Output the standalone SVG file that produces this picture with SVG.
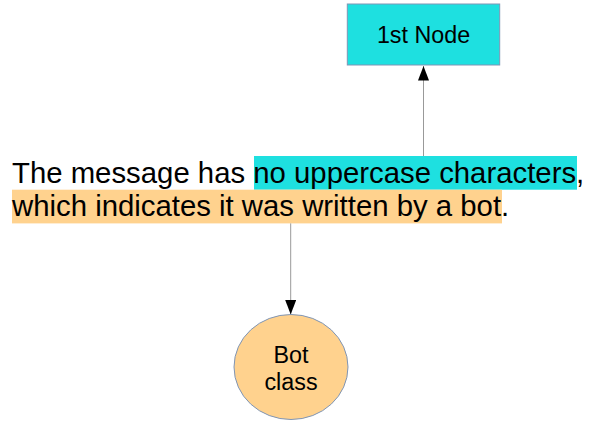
<svg xmlns="http://www.w3.org/2000/svg" width="597" height="421" viewBox="0 0 597 421">
<style>
.lbl{font-family:"Liberation Sans",Arial,sans-serif;font-size:23.3px;fill:#000;text-anchor:middle}
.msg{font-family:"Liberation Sans",Arial,sans-serif;font-size:29.33px;fill:#000}
.edge{stroke:#999;stroke-width:1;fill:none}
.node{stroke:#7f95b5;stroke-width:1}
</style>
<defs>
<marker id="ah" markerWidth="14.5" markerHeight="11" refX="14.5" refY="5.5" orient="auto" markerUnits="userSpaceOnUse">
<path d="M0,0 L14.5,5.5 L0,11 Z" fill="#000"/>
</marker>
</defs>
<rect width="597" height="421" fill="#fff"/>
<g id="message">
<rect x="254" y="156" width="323" height="33.7" fill="#1ee0e0"/>
<rect x="12" y="189.7" width="490" height="33.7" fill="#ffd28e"/>
<text class="msg" x="12" y="182.5">The message has no uppercase characters,</text>
<text class="msg" x="12" y="216.2">which indicates it was written by a bot.</text>
</g>
<g id="connectors">
<line class="edge" x1="423.5" y1="156" x2="423.5" y2="66" marker-end="url(#ah)"/>
<line class="edge" x1="290.7" y1="223.4" x2="290.7" y2="314.5" marker-end="url(#ah)"/>
</g>
<g id="node1">
<rect class="node" x="347.3" y="4" width="152.4" height="61" fill="#1ee0e0"/>
<text class="lbl" x="423.5" y="42.8">1st Node</text>
</g>
<g id="botclass">
<ellipse class="node" cx="291" cy="367" rx="57" ry="52.5" fill="#ffd28e"/>
<text class="lbl" x="291" y="363">Bot</text>
<text class="lbl" x="291" y="390">class</text>
</g>
</svg>
